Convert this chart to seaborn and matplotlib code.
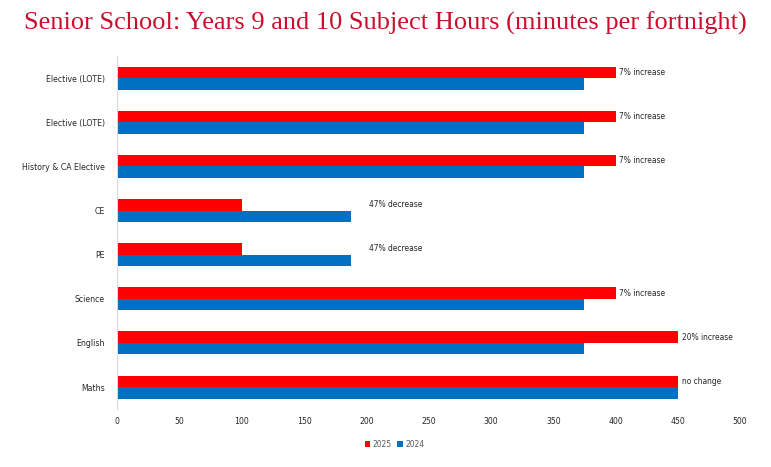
import matplotlib.pyplot as plt
import seaborn as sns
import pandas as pd

# --- data ---
subjects = ['Elective (LOTE)', 'Elective (LOTE)', 'History & CA Elective', 'CE', 'PE',
            'Science', 'English', 'Maths']
hours_2025 = [400, 400, 400, 100, 100, 400, 450, 450]
hours_2024 = [375, 375, 375, 187.5, 187.5, 375, 375, 450]
change_labels = ['7% increase', '7% increase', '7% increase', '47% decrease', '47% decrease',
                 '7% increase', '20% increase', 'no change']
years = ['2025', '2024']

# unique keys so the two "Elective (LOTE)" rows stay separate
keys = [f'{i}' for i in range(len(subjects))]
df = pd.DataFrame({
    'key': keys * 2,
    'minutes': hours_2025 + hours_2024,
    'year': [years[0]] * len(keys) + [years[1]] * len(keys),
})

sns.set_style('white')
plt.rcParams['font.family'] = ['DejaVu Sans']
plt.rcParams['font.stretch'] = 'condensed'

fig = plt.figure(figsize=(7.71, 4.67), dpi=100)
ax = fig.add_axes([0.152, 0.124, 0.808, 0.756])

sns.barplot(data=df, x='minutes', y='key', hue='year', order=keys, hue_order=years,
            palette={'2025': '#FF0000', '2024': '#0070C0'}, orient='h',
            width=0.52, saturation=1, linewidth=0, ax=ax, legend=True)

txt_col = '#262626'
ax.set_yticks(range(len(keys)))
ax.set_yticklabels(subjects, fontsize=6.2, color=txt_col)
ax.set_xlim(0, 500)
ax.set_xticks(range(0, 501, 50))
ax.tick_params(axis='x', labelsize=6.2, colors=txt_col, length=0, pad=6)
ax.tick_params(axis='y', length=0, pad=9)
ax.set_xlabel('')
ax.set_ylabel('')

for s in ['top', 'right', 'bottom']:
    ax.spines[s].set_visible(False)
ax.spines['left'].set_color('#D9D9D9')

# change labels beside the bars
for i, txt in enumerate(change_labels):
    a, b = hours_2025[i], hours_2024[i]
    x = a + 3 if a >= b else b + 15
    ax.text(x, i - 0.13, txt, va='center', ha='left', fontsize=6, color=txt_col)

ax.legend(loc='upper center', bbox_to_anchor=(0.445, -0.065), ncol=2, frameon=False,
          fontsize=6, handlelength=0.7, handleheight=0.7, handletextpad=0.3,
          columnspacing=0.6, labelcolor='#595959')

fig.text(0.5, 0.95, 'Senior School: Years 9 and 10 Subject Hours (minutes per fortnight)',
         ha='center', va='center', fontsize=19, color='#C8102E', family='Liberation Serif')

fig.savefig('out.png', dpi=100)
